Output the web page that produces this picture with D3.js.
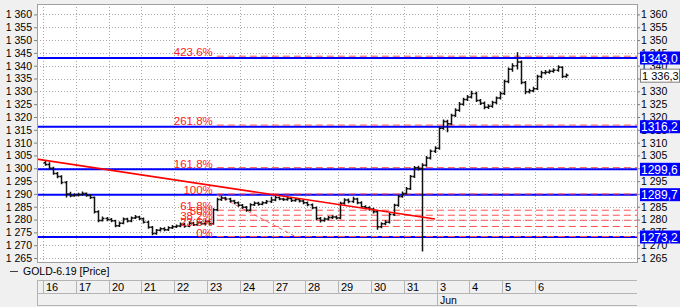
<!DOCTYPE html>
<html>
<head>
<meta charset="utf-8">
<script src="https://cdnjs.cloudflare.com/ajax/libs/d3/7.8.5/d3.min.js"></script>
<style>
	body { margin: 0; background: #f0f0f0; }
	text { font-family: "Liberation Sans", Arial, sans-serif; }
</style>
</head>
<body>
<div id="chart"></div>
<script>
var width = 680;
var height = 307;

// day cells on the time axis
var dayLabels = ["16", "17", "20", "21", "22", "23", "24", "27", "28", "29", "30", "31", "3", "4", "5", "6"];
var monthLabels = [{ day: 12, label: "Jun" }];
var barsPerDay = 8;

// price bars (8 per day), open of each bar = previous close
var firstOpen = 1302.2;
var closes = [
	1301.5, 1300, 1298, 1296.8, 1294.5, 1290, 1289.3, 1289.6,
	1289.8, 1290.2, 1289.4, 1288.6, 1283, 1279.6, 1280.4, 1280,
	1279.5, 1277.6, 1278.6, 1280.2, 1279.4, 1280.6, 1281, 1280.3,
	1279, 1277, 1274.6, 1275.8, 1276.4, 1276, 1276.8, 1277.2,
	1277.5, 1278.2, 1277.4, 1278.6, 1278, 1278.8, 1278.4, 1279.2,
	1278.4, 1283.8, 1287.8, 1288.4, 1288, 1287.2, 1286.6, 1285.6,
	1284.8, 1283.6, 1285.8, 1286.4, 1286, 1286.6, 1287, 1287.6,
	1288.6, 1288, 1287.8, 1288.2, 1287.4, 1287.8, 1287.2, 1286.6,
	1285.8, 1284.6, 1280.4, 1279.6, 1280.2, 1280.8, 1281, 1280.6,
	1286.4, 1287.6, 1287, 1288, 1286.6, 1285, 1284.6, 1284,
	1283, 1277.2, 1278.4, 1279, 1282, 1285.6, 1289, 1290.2,
	1292, 1296.8, 1300.2, 1299.8, 1301.2, 1304, 1306.6, 1307.8,
	1315.6, 1318.2, 1317.4, 1320.6, 1322.6, 1325, 1326.8, 1327.8,
	1329.2, 1326.4, 1325.4, 1323.8, 1324.2, 1325.6, 1327.4, 1329.2,
	1333.8, 1338.6, 1340, 1341.4, 1333.4, 1329.8, 1330.2, 1331,
	1335.8, 1337.2, 1337.4, 1337.8, 1338.2, 1339.4, 1335.8, 1336.3
];
var highs = [
	1302.9, 1302.3, 1300.6, 1298.5, 1297.3, 1295, 1290.8, 1290.3,
	1290.5, 1290.9, 1290.6, 1289.9, 1289, 1283.6, 1281.2, 1281,
	1280.6, 1279.9, 1279.2, 1280.8, 1280.7, 1281.2, 1281.8, 1281.5,
	1280.8, 1279.5, 1277.5, 1276.3, 1277, 1277, 1277.4, 1277.9,
	1278.1, 1278.9, 1278.7, 1279.2, 1279.1, 1279.4, 1279.3, 1279.9,
	1279.7, 1284.4, 1288.5, 1289.3, 1288.9, 1288.5, 1287.7, 1287,
	1286.1, 1285.3, 1286.4, 1287, 1286.9, 1287.1, 1287.6, 1288.9,
	1289.2, 1289, 1288.5, 1288.8, 1288.7, 1288.3, 1288.2, 1287.6,
	1287, 1286.3, 1285.1, 1281, 1280.8, 1281.4, 1281.7, 1281.6,
	1286.9, 1288.3, 1288.2, 1288.9, 1288.5, 1287.1, 1285.6, 1285.2,
	1284.6, 1283.5, 1279, 1279.7, 1282.6, 1286.2, 1289.6, 1290.9,
	1292.7, 1297.4, 1300.9, 1301, 1302, 1304.8, 1307.3, 1308.6,
	1316.3, 1319, 1318.9, 1321.3, 1323.4, 1325.8, 1327.5, 1328.6,
	1330.2, 1329.8, 1327, 1326, 1325, 1326.3, 1328, 1329.9,
	1334.5, 1339.3, 1341, 1345.2, 1342, 1334, 1331, 1331.8,
	1336.5, 1338, 1338.3, 1338.5, 1339, 1340.2, 1339.8, 1337
];
var lows = [
	1301, 1299.4, 1297.5, 1296.1, 1293.8, 1288.6, 1288.7, 1288.9,
	1289, 1289.3, 1288.9, 1288, 1282.4, 1279, 1279.2, 1279.3,
	1279, 1277, 1277.1, 1278.2, 1278.9, 1279, 1280.2, 1279.8,
	1278.5, 1276.4, 1273.9, 1274.1, 1275.3, 1275.4, 1275.5, 1276.3,
	1276.7, 1277, 1276.8, 1277, 1277.5, 1277.6, 1277.9, 1277.8,
	1277.8, 1278, 1283.2, 1287.2, 1287.4, 1286.7, 1286, 1285,
	1284.2, 1283, 1283.1, 1285.3, 1285.4, 1285.6, 1286.1, 1286.5,
	1287.1, 1287.5, 1287.2, 1287.3, 1286.8, 1286.9, 1286.7, 1286,
	1285.2, 1284, 1279.8, 1278.9, 1279.1, 1279.7, 1280.2, 1280,
	1280.1, 1285.8, 1286.4, 1286.5, 1286, 1284.5, 1284, 1283.4,
	1282.4, 1276, 1276.6, 1277.8, 1278.5, 1281.4, 1285, 1288.5,
	1289.7, 1291.5, 1296.2, 1299.1, 1267.5, 1300.6, 1303.4, 1306,
	1307.2, 1315, 1314, 1316.8, 1320, 1322, 1324.4, 1326.2,
	1327.2, 1325.8, 1324.7, 1323, 1323.1, 1323.6, 1325, 1326.8,
	1328.6, 1333.2, 1337.6, 1338.5, 1332.8, 1328.9, 1329.2, 1329.6,
	1330.5, 1335.1, 1336.6, 1336.9, 1337.2, 1337.6, 1335.2, 1335.3
];
var lastPrice = 1336.3;

// horizontal lines (blue) and fibonacci levels (red)
var hLevels = [1343.0, 1316.2, 1299.6, 1289.7, 1273.2];
var fibLow = 1273.0;
var fibHigh = 1289.6;
var fibRatios = [4.236, 2.618, 1.618, 1, 0.618, 0.5, 0.382, 0.236, 0];
var fibLabels = ["423.6%", "261.8%", "161.8%", "100%", "61.8%", "50%", "38.2%", "23.6%", "0%"];
var fibStart = 5.3;
var fibDiagonal = [[5.3, 1289.6], [7.75, 1273.0]];
var trendLine = [[-0.2, 1303.6], [11.95, 1280.2]];

var priceTicks = [1265, 1270, 1275, 1280, 1285, 1290, 1295, 1300, 1305, 1310, 1315, 1320, 1325, 1330, 1335, 1340, 1345, 1350, 1355, 1360];

var plot = { left: 37, right: 637, top: 4, bottom: 262 };

var svg = d3
	.select("#chart")
	.append("svg")
	.attr("width", width)
	.attr("height", height);

var x = d3.scaleLinear().domain([0, 16]).range([43, 567.8]);
var y = d3.scaleLinear().domain([1273.2, 1343.0]).range([237, 58]);

function fmtTick(v) {
	return d3.format(",")(v).replace(",", " ");
}
function fmtBox(v) {
	return v.toFixed(1).replace(".", ",");
}

svg.append("rect")
	.attr("x", plot.left)
	.attr("y", plot.top)
	.attr("width", plot.right - plot.left)
	.attr("height", plot.bottom - plot.top)
	.attr("fill", "#ffffff");

svg.append("clipPath")
	.attr("id", "clip")
	.append("rect")
	.attr("x", plot.left)
	.attr("y", plot.top)
	.attr("width", plot.right - plot.left)
	.attr("height", plot.bottom - plot.top);

var chartGroup = svg.append("g").attr("clip-path", "url(#clip)");

// grid
chartGroup.selectAll(".hgrid")
	.data(priceTicks)
	.enter()
	.append("line")
	.attr("x1", plot.left)
	.attr("x2", plot.right)
	.attr("y1", (d) => Math.round(y(d)) + 0.5)
	.attr("y2", (d) => Math.round(y(d)) + 0.5)
	.attr("stroke", "#a8a8a8")
	.attr("stroke-dasharray", "1,2");

chartGroup.selectAll(".vgrid")
	.data(dayLabels)
	.enter()
	.append("line")
	.attr("x1", (d, i) => Math.round(x(i)) + 0.5)
	.attr("x2", (d, i) => Math.round(x(i)) + 0.5)
	.attr("y1", plot.top)
	.attr("y2", plot.bottom)
	.attr("stroke", "#a8a8a8")
	.attr("stroke-dasharray", "1,2");

// blue level lines
chartGroup.selectAll(".hlevel")
	.data(hLevels)
	.enter()
	.append("line")
	.attr("x1", plot.left)
	.attr("x2", plot.right)
	.attr("y1", (d) => y(d))
	.attr("y2", (d) => y(d))
	.attr("stroke", "#0000ff")
	.attr("stroke-width", 2);

// fibonacci dashed levels
var fibValues = fibRatios.map((r) => fibLow + r * (fibHigh - fibLow));
chartGroup.selectAll(".fib")
	.data(fibValues)
	.enter()
	.append("line")
	.attr("x1", x(fibStart))
	.attr("x2", plot.right)
	.attr("y1", (d) => y(d) - 1)
	.attr("y2", (d) => y(d) - 1)
	.attr("stroke", "#ff5050")
	.attr("stroke-width", 1)
	.attr("stroke-dasharray", "7,4");

chartGroup.append("line")
	.attr("x1", x(fibDiagonal[0][0]))
	.attr("y1", y(fibDiagonal[0][1]))
	.attr("x2", x(fibDiagonal[1][0]))
	.attr("y2", y(fibDiagonal[1][1]))
	.attr("stroke", "#ff5a5a")
	.attr("stroke-width", 1)
	.attr("stroke-dasharray", "4,3");

// price bars
var bars = closes.map(function (c, i) {
	return {
		t: Math.floor(i / barsPerDay) + ((i % barsPerDay) + 0.5) / barsPerDay,
		open: i === 0 ? firstOpen : closes[i - 1],
		high: highs[i],
		low: lows[i],
		close: c,
	};
});

chartGroup.selectAll(".bar")
	.data(bars)
	.enter()
	.append("path")
	.attr("d", function (d) {
		var cx = Math.round(x(d.t)) + 0.5;
		return `M${cx},${y(d.high)}V${y(d.low)}M${cx - 2},${y(d.open)}H${cx}M${cx},${y(d.close)}H${cx + 2}`;
	})
	.attr("fill", "none")
	.attr("stroke", "#111")
	.attr("stroke-width", 1.5);

// trend line
chartGroup.append("line")
	.attr("x1", x(trendLine[0][0]))
	.attr("y1", y(trendLine[0][1]))
	.attr("x2", x(trendLine[1][0]))
	.attr("y2", y(trendLine[1][1]))
	.attr("stroke", "#ff0000")
	.attr("stroke-width", 1.6);

// fib labels
chartGroup.selectAll(".fiblabel")
	.data(fibValues)
	.enter()
	.append("text")
	.attr("x", x(fibStart) - 4)
	.attr("y", (d) => y(d) - 1)
	.attr("text-anchor", "end")
	.attr("font-size", "11.5px")
	.attr("fill", "#ff2020")
	.text((d, i) => fibLabels[i]);

// plot border
svg.append("rect")
	.attr("x", plot.left + 0.5)
	.attr("y", plot.top + 0.5)
	.attr("width", plot.right - plot.left)
	.attr("height", plot.bottom - plot.top)
	.attr("fill", "none")
	.attr("stroke", "#a0a0a0");

// left axis
var leftAxis = d3.axisLeft(y).tickValues(priceTicks).tickFormat(fmtTick).tickSize(3);
var yaxisL = svg.append("g").attr("transform", `translate(${plot.left},0)`).call(leftAxis);
yaxisL.select(".domain").remove();
yaxisL.selectAll("line").attr("stroke", "#808080");
yaxisL.selectAll("text").attr("font-size", "10.5px").attr("fill", "#000").attr("font-family", "Liberation Sans, Arial, sans-serif").attr("dx", "1");

// right axis
var rightAxis = d3.axisRight(y).tickValues(priceTicks).tickFormat(fmtTick).tickSize(3);
var yaxisR = svg.append("g").attr("transform", `translate(${plot.right},0)`).call(rightAxis);
yaxisR.select(".domain").remove();
yaxisR.selectAll("line").attr("stroke", "#808080");
yaxisR.selectAll("text").attr("font-size", "10.5px").attr("fill", "#000").attr("font-family", "Liberation Sans, Arial, sans-serif").attr("dx", "-2");

// level boxes on the right axis
var boxes = svg.append("g");
boxes.selectAll("rect")
	.data(hLevels)
	.enter()
	.append("rect")
	.attr("x", plot.right + 3)
	.attr("y", (d) => y(d) - 6.5)
	.attr("width", 40)
	.attr("height", 13)
	.attr("fill", "#0000ff");
boxes.selectAll("text")
	.data(hLevels)
	.enter()
	.append("text")
	.attr("x", plot.right + 4)
	.attr("y", (d) => y(d) + 4.5)
	.attr("font-size", "12px")
	.attr("fill", "#ffffff")
	.text(fmtBox);

svg.append("rect")
	.attr("x", plot.right + 3.5)
	.attr("y", y(lastPrice) - 6)
	.attr("width", 39)
	.attr("height", 13)
	.attr("fill", "#ffffff")
	.attr("stroke", "#808080");
svg.append("text")
	.attr("x", plot.right + 5)
	.attr("y", y(lastPrice) + 4.5)
	.attr("font-size", "11px")
	.attr("fill", "#000")
	.text(fmtTick(Math.floor(lastPrice)) + "," + Math.round((lastPrice % 1) * 10));

// legend
svg.append("line")
	.attr("x1", 10)
	.attr("x2", 18)
	.attr("y1", 271.5)
	.attr("y2", 271.5)
	.attr("stroke", "#404040");
svg.append("text")
	.attr("x", 23)
	.attr("y", 275)
	.attr("font-size", "10.5px")
	.attr("fill", "#000")
	.text("GOLD-6.19 [Price]");

// time axis
var timeAxis = svg.append("g");
var rowTop = 280.5, rowMid = 293.5, rowBottom = 305.5;
[rowTop, rowMid, rowBottom].forEach(function (ry) {
	timeAxis.append("line")
		.attr("x1", plot.left)
		.attr("x2", plot.right)
		.attr("y1", ry)
		.attr("y2", ry)
		.attr("stroke", "#b4b4b4");
});
timeAxis.append("line")
	.attr("x1", plot.left + 0.5)
	.attr("x2", plot.left + 0.5)
	.attr("y1", rowTop)
	.attr("y2", rowBottom)
	.attr("stroke", "#b4b4b4");
timeAxis.selectAll(".daysep")
	.data(dayLabels)
	.enter()
	.append("line")
	.attr("x1", (d, i) => Math.round(x(i)) + 0.5)
	.attr("x2", (d, i) => Math.round(x(i)) + 0.5)
	.attr("y1", rowTop)
	.attr("y2", rowMid)
	.attr("stroke", "#b4b4b4");
timeAxis.selectAll(".daylabel")
	.data(dayLabels)
	.enter()
	.append("text")
	.attr("x", (d, i) => Math.round(x(i)) + 3)
	.attr("y", 291)
	.attr("font-size", "11px")
	.attr("fill", "#000")
	.text((d) => d);
monthLabels.forEach(function (m) {
	timeAxis.append("line")
		.attr("x1", Math.round(x(m.day)) + 0.5)
		.attr("x2", Math.round(x(m.day)) + 0.5)
		.attr("y1", rowMid)
		.attr("y2", rowBottom)
		.attr("stroke", "#b4b4b4");
	timeAxis.append("text")
		.attr("x", Math.round(x(m.day)) + 3)
		.attr("y", 303.5)
		.attr("font-size", "10.5px")
		.attr("fill", "#000")
		.text(m.label);
});
</script>
</body>
</html>
